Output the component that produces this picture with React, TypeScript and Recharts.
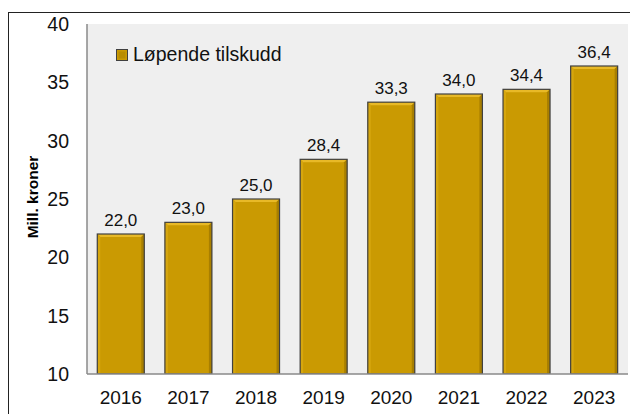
import React from "react";
import { BarChart, Bar, XAxis, YAxis, LabelList, CartesianGrid } from "recharts";

const years = ["2016", "2017", "2018", "2019", "2020", "2021", "2022", "2023"];
const tilskudd = [22.0, 23.0, 25.0, 28.4, 33.3, 34.0, 34.4, 36.4];
const yTicks = [10, 15, 20, 25, 30, 35, 40];
const seriesName = "Løpende tilskudd";
const yLabel = "Mill. kroner";

const data = years.map((y, i) => ({ year: y, value: tilskudd[i] }));

const FONT = "Arial, 'Liberation Sans', sans-serif";
const GOLD = "#CA9A02";

const BevelBar = (props: any) => {
  const { x, y, width: w, height: h } = props;
  if (!w || !h) return null;
  const b = 3;
  return (
    <g>
      <rect x={x} y={y} width={w} height={h} fill={GOLD} />
      <polygon points={`${x},${y} ${x + w},${y} ${x + w - b},${y + b} ${x + b},${y + b}`} fill="#E8B927" />
      <polygon points={`${x},${y} ${x + b},${y + b} ${x + b},${y + h} ${x},${y + h}`} fill="#D6A60E" />
      <polygon points={`${x + w},${y} ${x + w - b},${y + b} ${x + w - b},${y + h} ${x + w},${y + h}`} fill="#A87F00" />
      <rect x={x} y={y} width={w} height={h} fill="none" stroke="#404040" strokeWidth={1.2} />
    </g>
  );
};

const YTick = (props: any) => {
  const { x, y, payload } = props;
  return (
    <text x={x} y={y + 7} textAnchor="end" fontSize={19.5} fontFamily={FONT} fill="#111">
      {payload.value}
    </text>
  );
};

const XTick = (props: any) => {
  const { x, y, payload } = props;
  return (
    <text x={x} y={y + 22} textAnchor="middle" fontSize={19} fontFamily={FONT} fill="#111">
      {payload.value}
    </text>
  );
};

const YLabel = (props: any) => {
  const vb = props.viewBox || {};
  const cy = (vb.y || 0) + (vb.height || 0) / 2 - 2;
  const cx = 29;
  return (
    <text
      x={cx}
      y={cy}
      transform={`rotate(-90 ${cx} ${cy})`}
      textAnchor="middle"
      fontSize={15.5}
      fontWeight="bold"
      fontFamily={FONT}
      fill="#000"
    >
      {yLabel}
    </text>
  );
};

export default function App() {
  return (
    <div
      style={{
        position: "absolute",
        left: 8,
        top: 12,
        width: 640,
        height: 420,
        borderLeft: "1px solid #222",
        borderTop: "1px solid #222",
        background: "#fff",
      }}
    >
      <BarChart
        width={621}
        height={401}
        data={data}
        margin={{ top: 11, right: 2, left: 0, bottom: 0 }}
        barCategoryGap="15.2%"
      >
        <CartesianGrid
          horizontal={false}
          vertical={false}
          stroke="none"
          fill="#EFEFEF"
          fillOpacity={1}
        />
        <XAxis
          dataKey="year"
          height={40}
          tickLine={false}
          axisLine={{ stroke: "#8A8A8A", strokeWidth: 1.5 }}
          tick={<XTick />}
          interval={0}
        />
        <YAxis
          width={78}
          domain={[10, 40]}
          ticks={yTicks}
          allowDataOverflow
          tickLine={false}
          axisLine={{ stroke: "#8A8A8A", strokeWidth: 1.5 }}
          tick={<YTick />}
          tickMargin={12}
          label={<YLabel />}
        />
        <Bar dataKey="value" name={seriesName} shape={<BevelBar />} isAnimationActive={false}>
          <LabelList
            dataKey="value"
            position="top"
            offset={8}
            formatter={(v: any) => Number(v).toFixed(1).replace(".", ",")}
            style={{ fontSize: 17, fontFamily: FONT, fill: "#111" }}
          />
        </Bar>
      </BarChart>
      <div
        style={{
          position: "absolute",
          left: 107,
          top: 30,
          display: "flex",
          alignItems: "center",
          fontFamily: FONT,
          fontSize: 19.5,
          color: "#111",
          whiteSpace: "nowrap",
        }}
      >
        <svg width={12} height={12} style={{ marginRight: 5 }}>
          <rect x={0.5} y={0.5} width={11} height={11} fill={GOLD} stroke="#404040" strokeWidth={1} />
          <rect x={2.5} y={2.5} width={7} height={7} fill="#B88C00" />
        </svg>
        <span>{seriesName}</span>
      </div>
    </div>
  );
}
